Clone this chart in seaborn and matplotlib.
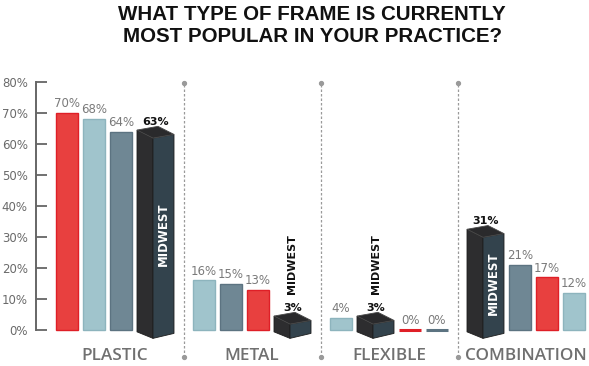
import matplotlib
matplotlib.use("Agg")
import matplotlib.pyplot as plt
import numpy as np
import pandas as pd
import seaborn as sns

GROUPS = ["PLASTIC", "METAL", "FLEXIBLE", "COMBINATION"]
PLASTIC_SERIES = ["red", "light", "slate", "midwest"]
PLASTIC_VALUES = [70, 68, 64, 63]
METAL_SERIES = ["light", "slate", "red", "midwest"]
METAL_VALUES = [16, 15, 13, 3]
FLEXIBLE_SERIES = ["light", "midwest", "red", "slate"]
FLEXIBLE_VALUES = [4, 3, 0, 0]
COMBINATION_SERIES = ["midwest", "slate", "red", "light"]
COMBINATION_VALUES = [31, 21, 17, 12]
Y_TICKS = [0, 10, 20, 30, 40, 50, 60, 70, 80]
TITLE = ["WHAT TYPE OF FRAME IS CURRENTLY", "MOST POPULAR IN YOUR PRACTICE?"]

SERIES_BY_GROUP = [PLASTIC_SERIES, METAL_SERIES, FLEXIBLE_SERIES, COMBINATION_SERIES]
VALUES_BY_GROUP = [PLASTIC_VALUES, METAL_VALUES, FLEXIBLE_VALUES, COMBINATION_VALUES]

PALETTE = {"red": "#e8403f", "light": "#a0c4cc", "slate": "#6f8794"}
EDGES = {"red": "#df1f27", "light": "#8db4bd", "slate": "#5c7381"}
GREY = "#7a7a7a"

# layout in pixel units along x (axes spans the full figure width)
FIRST_LEFT, GROUP_PITCH = 56, 137
BAR_W, BOX_W, GAP = 22, 37, 5

rows = []
for g, (group, series, values) in enumerate(zip(GROUPS, SERIES_BY_GROUP, VALUES_BY_GROUP)):
    cursor = FIRST_LEFT + g * GROUP_PITCH
    for s, v in zip(series, values):
        w = BOX_W if s == "midwest" else BAR_W
        rows.append({"group": group, "series": s, "value": v, "left": cursor, "x": cursor + w / 2})
        cursor += w + GAP
df = pd.DataFrame(rows)
bars = df[df["series"] != "midwest"].copy()
boxes = df[df["series"] == "midwest"].copy()

sns.set_theme(style="white")
plt.rcParams["font.family"] = ["DejaVu Sans"]

fig = plt.figure(figsize=(5.89, 3.66), dpi=100)
ax = fig.add_axes([0, 0.0052, 1, 0.8046])

min_step = np.min(np.diff(np.unique(bars["x"])))
sns.barplot(data=bars, x="x", y="value", hue="series", palette=PALETTE, native_scale=True,
            dodge=False, width=BAR_W / min_step, legend=False, ax=ax, saturation=1)

for p in ax.patches:
    fc = matplotlib.colors.to_hex(p.get_facecolor())
    key = [k for k, c in PALETTE.items() if c == fc]
    if key:
        p.set_edgecolor(EDGES[key[0]])
        p.set_linewidth(2.2 if p.get_height() == 0 else 1.0)

for r in bars.itertuples():
    ax.annotate(f"{r.value}%", (r.x, r.value), xytext=(0, 2), textcoords="offset points",
                ha="center", va="bottom", fontsize=8.5, color=GREY)

# 3D "MIDWEST" boxes
for r in boxes.itertuples():
    x0, v = r.left, r.value
    xm, x1 = x0 + 16, x0 + BOX_W
    t = v + 1.5
    L, F, R = (x0, t), (xm, t - 2.6), (x1, t - 1.4)
    B = (L[0] + R[0] - F[0], L[1] + R[1] - F[1])
    Lb, Fb, Rb = (x0, -0.6), (xm, -2.7), (x1, -1.1)
    ax.fill(*zip(L, F, Fb, Lb), color="#2d2d2f", ec="#1e1e1e", lw=0.6, clip_on=False, zorder=3)
    ax.fill(*zip(F, R, Rb, Fb), color="#33434d", ec="#1e1e1e", lw=0.6, clip_on=False, zorder=3)
    ax.fill(*zip(L, B, R, F), color="#2a2a2c", ec="#4a4a4a", lw=0.6, clip_on=False, zorder=3)
    ax.annotate(f"{v}%", (r.x, t), xytext=(0, 2), textcoords="offset points", ha="center",
                va="bottom", fontsize=8, fontweight="bold", color="#111111", zorder=4)
    if v >= 20:
        ax.text(x0 + 26, v / 2 - 0.5, "MIDWEST", rotation=90, ha="center", va="center",
                fontsize=8.5, fontweight="bold", color="white", zorder=4)
    else:
        ax.annotate("MIDWEST", (r.x, t), xytext=(0, 16), textcoords="offset points",
                    rotation=90, ha="center", va="bottom", fontsize=8, fontweight="bold",
                    color="#111111", zorder=4)

# dotted separators between groups
group_w = 3 * BAR_W + BOX_W + 3 * GAP
for g in range(1, len(GROUPS)):
    prev_end = FIRST_LEFT + (g - 1) * GROUP_PITCH + group_w
    sep = (prev_end + FIRST_LEFT + g * GROUP_PITCH) / 2
    ax.plot([sep, sep], [-8.6, 79.6], ls=(0, (2, 1.6)), color="#9a9a9a", lw=0.9,
            marker="o", ms=2.8, clip_on=False)

# group labels
for g, group in enumerate(GROUPS):
    ax.text(FIRST_LEFT + g * GROUP_PITCH + group_w / 2, -8.3, group, ha="center",
            va="center", fontsize=12.3, color="#707070", fontweight=600,
            family=["Open Sans", "DejaVu Sans"])

ax.set_xlim(0, 589)
ax.set_ylim(-11, 84)
ax.set_xticks([])
ax.set_xlabel("")
ax.set_ylabel("")
ax.set_yticks(Y_TICKS)
ax.set_yticklabels([f"{t}%" for t in Y_TICKS])
for side in ["top", "right", "bottom"]:
    ax.spines[side].set_visible(False)
ax.spines["left"].set_position(("data", 36))
ax.spines["left"].set_bounds(0, 80)
ax.spines["left"].set_color("#666666")
ax.spines["left"].set_linewidth(1.4)
ax.tick_params(axis="y", direction="in", length=8, width=1.3, color="#666666",
               labelsize=8.5, labelcolor="#6a6a6a", pad=6, left=True)
ax.set_facecolor("white")
ax.grid(False)

for i, line in enumerate(TITLE):
    fig.text(0.53, 0.9454 - i * 0.0593, line, ha="center", va="baseline", fontsize=14.8,
             fontweight="bold", color="#111111",
             family=["Liberation Sans", "DejaVu Sans"])

fig.savefig("out.png", dpi=100, facecolor="white")
